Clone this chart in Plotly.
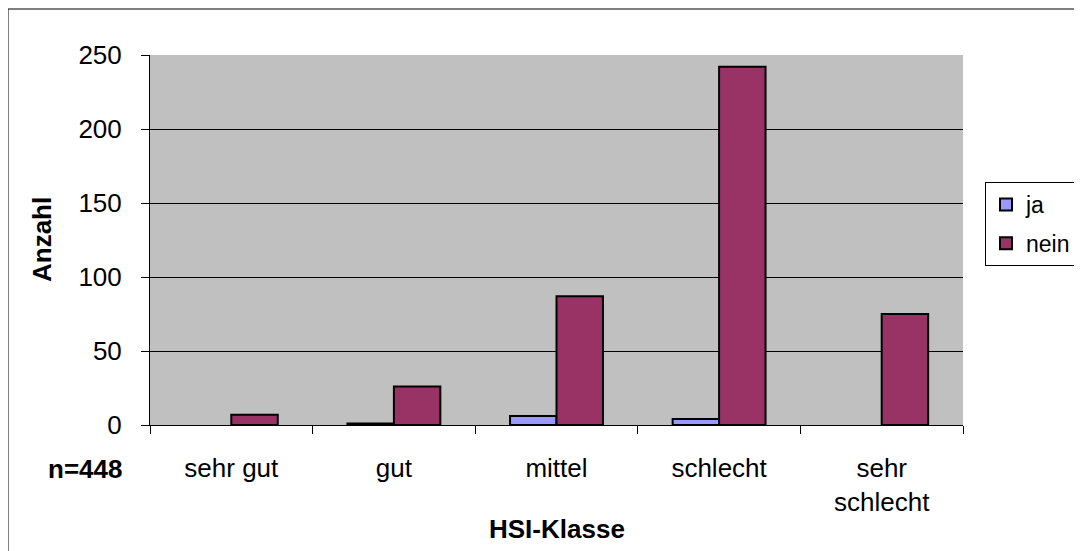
import plotly.graph_objects as go

categories = ["sehr gut", "gut", "mittel", "schlecht", "sehr<br>schlecht"]
ja_values = [0, 1, 6, 4, 0]
nein_values = [7, 26, 87, 242, 75]
y_ticks = [0, 50, 100, 150, 200, 250]
series_names = ["ja", "nein"]
series_colors = ["#9999FF", "#993366"]

FONT = "Liberation Sans, Arial, sans-serif"

# plot area in figure pixels (page has 8px body margin)
L, R, T, B = 142, 955, 47, 417
W, H = 1082, 551
pw, ph = R - L, B - T


def px(x):
    return (x - L) / pw


def py(y):
    return (B - y) / ph


def outline(vals):
    # Excel draws nothing for zero-height bars
    return [0 if v == 0 else 2 for v in vals]


fig = go.Figure()
for name, vals, col in zip(series_names, [ja_values, nein_values], series_colors):
    fig.add_trace(go.Bar(name=name, x=categories, y=vals,
                         marker=dict(color=col, line=dict(color="black", width=outline(vals))),
                         showlegend=False, legendgroup=name, offsetgroup=name))
# legend entries (no data drawn)
for name, col in zip(series_names, series_colors):
    fig.add_trace(go.Bar(name=name, x=[None], y=[None],
                         marker=dict(color=col, line=dict(color="black", width=2)),
                         showlegend=True, legendgroup=name, offsetgroup=name))

fig.update_layout(
    width=W, height=H,
    margin=dict(l=L, r=W - R, t=T, b=H - B),
    paper_bgcolor="white",
    plot_bgcolor="#C0C0C0",
    barmode="group",
    bargap=0.4286,
    bargroupgap=0,
    font=dict(family=FONT, color="black", size=26),
    showlegend=True,
    legend=dict(
        x=px(977), y=py(174), xanchor="left", yanchor="top",
        bgcolor="white", bordercolor="black", borderwidth=1,
        font=dict(size=23, family=FONT),
        traceorder="grouped", tracegroupgap=6,
        itemwidth=30,
    ),
    xaxis=dict(
        showline=True, linecolor="black", linewidth=1,
        ticks="outside", ticklen=8, tickcolor="black",
        tickson="boundaries",
        ticklabelstandoff=20,
        tickfont=dict(size=26),
        categoryorder="array", categoryarray=categories,
    ),
    yaxis=dict(
        range=[0, 250],
        tickvals=y_ticks,
        showgrid=True, gridcolor="black", gridwidth=1,
        showline=True, linecolor="black", linewidth=1,
        ticks="outside", ticklen=8, tickcolor="black",
        ticklabelstandoff=14,
        tickfont=dict(size=26),
        zeroline=False,
    ),
    annotations=[
        dict(text="<b>n=448</b>", x=px(77), y=py(461),
             xref="paper", yref="paper", showarrow=False,
             xanchor="center", yanchor="middle", font=dict(size=26)),
        dict(text="<b>HSI-Klasse</b>", x=0.5, y=py(521),
             xref="paper", yref="paper", showarrow=False,
             xanchor="center", yanchor="middle", font=dict(size=26)),
        dict(text="<b>Anzahl</b>", x=px(34), y=0.5, textangle=-90,
             xref="paper", yref="paper", showarrow=False,
             xanchor="center", yanchor="middle", font=dict(size=26)),
    ],
    shapes=[
        dict(type="rect", xref="paper", yref="paper",
             x0=px(0), x1=1.3, y0=-0.5, y1=py(1),
             line=dict(color="black", width=1), fillcolor="rgba(0,0,0,0)", layer="below"),
    ],
)

fig.write_html("out.html")
